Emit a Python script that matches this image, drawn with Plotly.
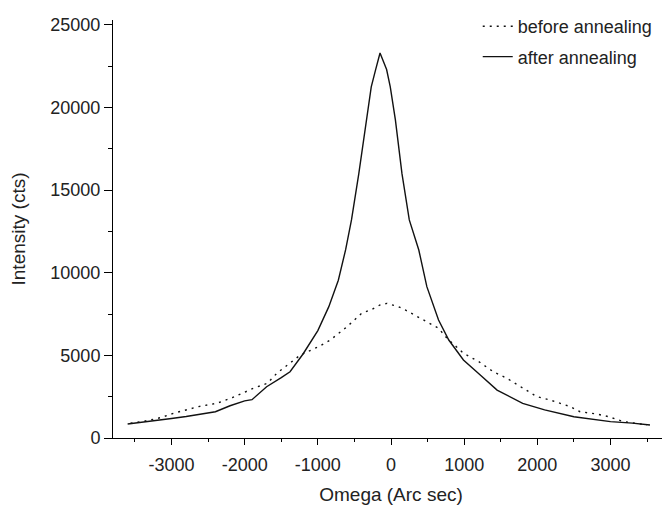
import plotly.graph_objects as go

# after annealing (solid)
after_x = [-3600, -3400, -3200, -3000, -2800, -2600, -2400, -2200, -2000, -1900,
           -1700, -1500, -1380, -1200, -1000, -850, -720, -620, -540, -440,
           -340, -270, -210, -150, -60, -10, 60, 150, 250, 380,
           490, 650, 790, 990, 1220, 1450, 1800, 2100, 2500, 3000,
           3300, 3540]
after_y = [850, 950, 1050, 1180, 1300, 1430, 1590, 1950, 2250, 2320,
           3100, 3650, 4010, 5100, 6500, 7950, 9550, 11400, 13200, 16000,
           19200, 21250, 22300, 23300, 22300, 21250, 19250, 16000, 13200, 11380,
           9160, 7140, 5930, 4720, 3810, 2900, 2100, 1700, 1290, 990,
           900, 790]

# before annealing (dotted)
before_x = [-3560, -3330, -3150, -2970, -2630, -2380, -2170, -1880, -1690, -1560,
            -1240, -990, -830, -600, -400, -260, -150, -55, 100, 195,
            400, 650, 765, 990, 1200, 1400, 1585, 1765, 1995, 2175,
            2450, 2585, 2815, 2975, 3180, 3500]
before_y = [890, 1050, 1230, 1500, 1900, 2100, 2440, 3010, 3310, 3920,
            5020, 5530, 5930, 6740, 7550, 7790, 8050, 8150, 7950, 7750,
            7250, 6640, 6040, 5130, 4620, 4010, 3610, 3100, 2500, 2300,
            1900, 1590, 1450, 1290, 990, 790]

x_ticks = [-3000, -2000, -1000, 0, 1000, 2000, 3000]
x_ticktext = ["-3000", "-2000", "-1000", "0", "1000", "2000", "3000"]
y_ticks = [0, 5000, 10000, 15000, 20000, 25000]
y_ticktext = ["0", "5000", "10000", "15000", "20000", "25000"]

FONT = "Liberation Sans, Arial, sans-serif"

fig = go.Figure()
fig.add_trace(go.Scatter(x=before_x, y=before_y, mode="lines", name="before annealing",
                         legendgroup="a",
                         line=dict(color="#111111", width=1.4, dash="2px,5px")))
fig.add_trace(go.Scatter(x=after_x, y=after_y, mode="lines", name="after annealing",
                         legendgroup="b",
                         line=dict(color="#111111", width=1.4)))

# page body has an 8px default margin, so the figure is sized to fit the window
fig.update_layout(
    width=662, height=497,
    margin=dict(l=105, r=1, t=12, b=67, autoexpand=False),
    paper_bgcolor="white", plot_bgcolor="white",
    font=dict(family=FONT, color="#222222"),
    showlegend=True,
    legend=dict(x=0.656, y=1.0287, xanchor="left", yanchor="top",
                bgcolor="rgba(0,0,0,0)", font=dict(size=18, color="#222222"),
                tracegroupgap=4, borderwidth=0),
    xaxis=dict(range=[-3800, 3800], tickvals=x_ticks, ticktext=x_ticktext,
               ticks="outside", ticklen=6, automargin=False, ticklabelstandoff=4,
               tickcolor="black", showline=True, linecolor="black", linewidth=1,
               showgrid=False, zeroline=False, tickfont=dict(size=18),
               minor=dict(ticks="outside", ticklen=3, dtick=500, tickcolor="black", showgrid=False),
               title=dict(text="Omega (Arc sec)", font=dict(size=19), standoff=18)),
    yaxis=dict(range=[0, 25300], tickvals=y_ticks, ticktext=y_ticktext,
               ticks="outside", ticklen=8, automargin=False,
               tickcolor="black", showline=True, linecolor="black", linewidth=1,
               showgrid=False, zeroline=False, tickfont=dict(size=18),
               minor=dict(ticks="outside", ticklen=4, dtick=2500, tickcolor="black", showgrid=False),
               title=dict(text="Intensity (cts)", font=dict(size=19), standoff=20)),
)

fig.write_html("out.html")
